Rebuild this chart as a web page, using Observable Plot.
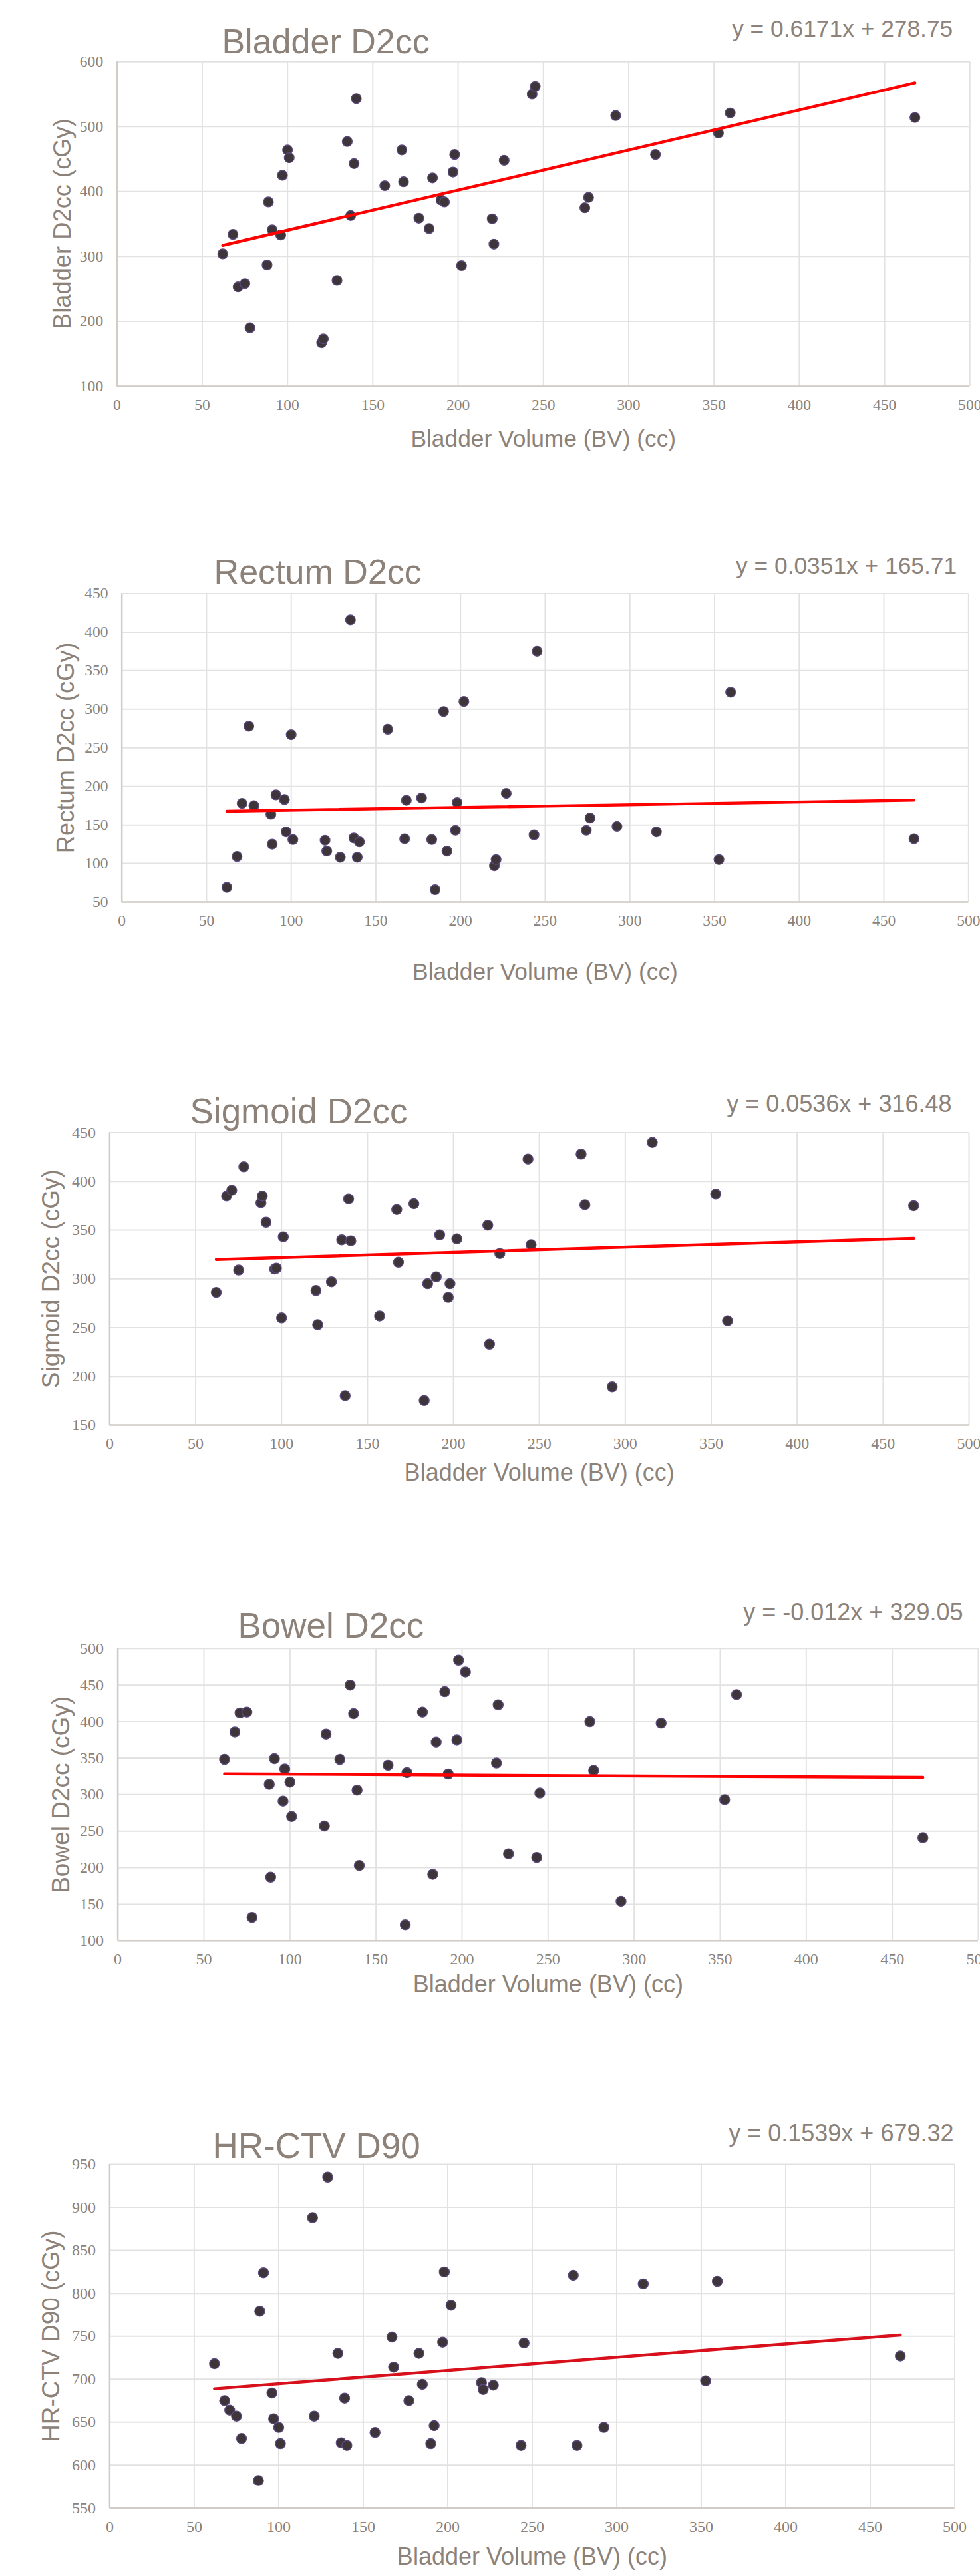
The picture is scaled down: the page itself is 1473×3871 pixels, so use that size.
<!DOCTYPE html>
<html><head><meta charset="utf-8">
<script src="https://cdn.jsdelivr.net/npm/d3@7"></script>
<script src="https://cdn.jsdelivr.net/npm/@observablehq/plot@0.6"></script>
<style>
html,body{margin:0;padding:0;background:#fff;}
body{width:1473px;height:3871px;position:relative;overflow:hidden;}
.panel{position:absolute;left:0;}
.panel svg{display:block;overflow:visible;}
</style></head><body>
<script>
// ---- data ----
const bladderVolume = [62, 68, 71, 75, 78, 88, 88.8, 91, 96, 97, 100, 101, 120, 121, 129, 135, 137, 139, 140.3, 157, 167, 168, 177, 183, 185, 190, 192, 197, 198, 202, 220, 221, 227, 243.4, 245.2, 274.3, 276.5, 292.4, 315.7, 352.6, 359.5, 467.8];
const bladderD2cc = [304,334,253,258,190,287,384,341,333,425,464,452,167,173,263,477,363,443,543,409,464,415,359,343,421,387,384,430,457,286,358,319,448,550,562,375,391,517,457,490,521,514];
const rectumD2cc = [69,109,178,278,175,164,125,189,183,141,267,131,130,116,108,416,133,108,128,274,132,182,185,131,66,297,116,143,179,310,97,105,191,137,375,143,159,148,141,105,322,132];
const sigmoidD2cc = [286,385,391,309,415,378,385,358,310,311,260,343,288,253,297,340,180,382,339,262,371,317,377,175,295,302,345,281,295,341,355,233,326,423,335,428,376,189,440,387,257,375];
const bowelD2cc = [348,386,412,413,132,314,187,349,291,335,317,270,257,383,348,450,411,306,203,340,122,330,413,191,372,441,328,375,484,468,343,423,219,214,302,400,333,154,398,293,437,241];
const hrctvD90 = [718,675,664,657,631,582,779,824,684,654,644,625,888,657,935,730,626,678,623,638,749,714,675,730,694,625,646,743,825,786,696,688,693,623,742,821,623,644,811,698,814,727];

const panelTitles = ["Bladder D2cc", "Rectum D2cc", "Sigmoid D2cc", "Bowel D2cc", "HR-CTV D90"];
const yLabels = ["Bladder D2cc (cGy)", "Rectum D2cc (cGy)", "Sigmoid D2cc (cGy)", "Bowel D2cc (cGy)", "HR-CTV D90 (cGy)"];
const equations = ["y = 0.6171x + 278.75", "y = 0.0351x + 165.71", "y = 0.0536x + 316.48", "y = -0.012x + 329.05", "y = 0.1539x + 679.32"];
const slopes = [0.6171, 0.0351, 0.0536, -0.012, 0.1539];
const intercepts = [278.75, 165.71, 316.48, 329.05, 679.32];
const yDomains = [[100, 600], [50, 450], [150, 450], [100, 500], [550, 950]];
const yTicks = [
  [100, 200, 300, 400, 500, 600],
  [50, 100, 150, 200, 250, 300, 350, 400, 450],
  [150, 200, 250, 300, 350, 400, 450],
  [100, 150, 200, 250, 300, 350, 400, 450, 500],
  [550, 600, 650, 700, 750, 800, 850, 900, 950]
];
const xTicks = [0, 50, 100, 150, 200, 250, 300, 350, 400, 450, 500];
const xLabel = "Bladder Volume (BV) (cc)";
const doseSeries = [bladderD2cc, rectumD2cc, sigmoidD2cc, bowelD2cc, hrctvD90];

// ---- layout (page coordinates) ----
const layout = [
  {top: 0,    height: 700, width: 1500, ml: 178.5, mr: 16,   mt: 93.9,  mb: 109.4, titleX: 339, titleY: 81,   eqRight: 1458, eqY: 55,   xTitleY: 671,  yLabX: 107},
  {top: 780,  height: 730, width: 1500, ml: 186,   mr: 18,   mt: 113.5, mb: 144.4, titleX: 327, titleY: 878,  eqRight: 1464, eqY: 863,  xTitleY: 1473, yLabX: 113},
  {top: 1600, height: 650, width: 1473, ml: 164.4, mr: 17,   mt: 101.6, mb: 109.1, titleX: 285, titleY: 1687, eqRight: 1430, eqY: 1670, xTitleY: 2213, yLabX: 89},
  {top: 2380, height: 640, width: 1473, ml: 176.6, mr: 3,    mt: 96.8,  mb: 104.2, titleX: 357, titleY: 2460, eqRight: 1447, eqY: 2434, xTitleY: 2982, yLabX: 103},
  {top: 3150, height: 721, width: 1473, ml: 164.4, mr: 38.5, mt: 102,   mb: 102.6, titleX: 319, titleY: 3242, eqRight: 1433, eqY: 3217, xTitleY: 3842, yLabX: 89}
];

const textColor = "#8c8279";
const gridColor = "#e2e2e2";
const axisColor = "#d2ccc6";
const sans = "'Liberation Sans', Arial, sans-serif";
const serif = "'Liberation Serif', 'Times New Roman', serif";
const lineColors = ["#ff0000", "#ff0000", "#ff0000", "#ff0000", "#d8101c"];

const xExtent = d3.extent(bladderVolume);

panelTitles.forEach((title, i) => {
  const L = layout[i];
  const data = bladderVolume.map((bv, k) => ({bv, dose: doseSeries[i][k]}));
  const trend = xExtent.map(x => ({x, y: slopes[i] * x + intercepts[i]}));
  const frameTop = L.top + L.mt;
  const frameBottom = L.top + L.height - L.mb;
  const chart = Plot.plot({
    width: L.width,
    height: L.height,
    marginLeft: L.ml, marginRight: L.mr, marginTop: L.mt, marginBottom: L.mb,
    style: {color: textColor, background: "transparent", overflow: "visible"},
    x: {domain: [0, 500], nice: false},
    y: {domain: yDomains[i], nice: false},
    marks: [
      Plot.gridX(xTicks, {stroke: gridColor, strokeOpacity: 1, strokeWidth: 2}),
      Plot.gridY(yTicks[i], {stroke: gridColor, strokeOpacity: 1, strokeWidth: 2}),
      Plot.ruleX([0], {stroke: axisColor, strokeWidth: 2.5}),
      Plot.ruleY([yDomains[i][0]], {stroke: axisColor, strokeWidth: 2.5}),
      Plot.axisX(xTicks, {tickSize: 0, tickPadding: 19, fontSize: 24, fontFamily: serif, fill: textColor, label: null}),
      Plot.axisY(yTicks[i], {tickSize: 0, tickPadding: 21, fontSize: 24, fontFamily: serif, fill: textColor, label: null}),
      Plot.dot(data, {x: "bv", y: "dose", r: 7.5, fill: "#3d3539", stroke: "#5a4a7c", strokeWidth: 1.5}),
      Plot.line(trend, {x: "x", y: "y", stroke: lineColors[i], strokeWidth: 4.5}),
      Plot.text([title], {frameAnchor: "top-left", dx: L.titleX - L.ml, dy: L.titleY - frameTop, textAnchor: "start", lineAnchor: "bottom", fontSize: 53, fontFamily: sans, fill: textColor}),
      Plot.text([equations[i]], {frameAnchor: "top-left", dx: L.eqRight - L.ml, dy: L.eqY - frameTop, textAnchor: "end", lineAnchor: "bottom", fontSize: 36, fontFamily: sans, fill: textColor}),
      Plot.text([xLabel], {frameAnchor: "bottom", dy: L.xTitleY - frameBottom, textAnchor: "middle", lineAnchor: "middle", fontSize: 36, fontFamily: sans, fill: textColor}),
      Plot.text([yLabels[i]], {frameAnchor: "left", dx: L.yLabX - L.ml, rotate: -90, textAnchor: "middle", lineAnchor: "bottom", fontSize: 37, fontFamily: sans, fill: textColor})
    ]
  });
  const div = document.createElement("div");
  div.className = "panel";
  div.style.top = L.top + "px";
  div.appendChild(chart);
  document.body.appendChild(div);
});
</script>
</body></html>
